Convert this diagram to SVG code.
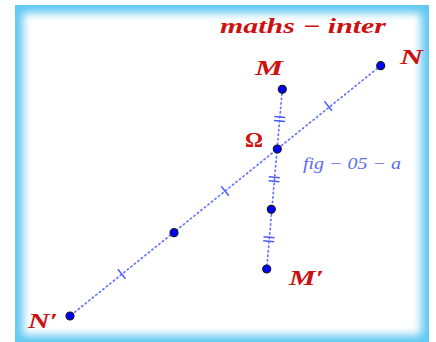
<svg xmlns="http://www.w3.org/2000/svg" width="436" height="342" viewBox="0 0 436 342">
<style>
.seg{stroke:#4a5cff;stroke-width:1.7;stroke-dasharray:1.3 3.2;stroke-linecap:round;fill:none;opacity:0.85}
.tick{stroke:#4a5cff;stroke-width:1.5;fill:none}
.pt{fill:#0000ff;stroke:#1a1a1a;stroke-width:1.2}
.lbl{font-family:"Liberation Serif","DejaVu Serif",serif;font-weight:bold;font-style:italic;fill:#cc1111}
.fig{font-family:"Liberation Serif","DejaVu Serif",serif;font-style:italic;fill:#5a6cf0}
</style>
<defs>
<clipPath id="frameClip"><rect x="15" y="5" width="414" height="340"/></clipPath>
<filter id="soft" x="-20%" y="-20%" width="140%" height="140%"><feGaussianBlur stdDeviation="4"/></filter>
</defs>
<rect width="436" height="342" fill="#ffffff"/>
<g id="frame" clip-path="url(#frameClip)">
<rect x="15" y="5" width="414" height="340" fill="#62c9f2"/>
<rect x="23" y="13" width="398" height="322" fill="#ffffff" filter="url(#soft)"/>
</g>
<g id="connectors">
<line class="seg" x1="380.7" y1="65.7" x2="70" y2="316"/>
<line class="seg" x1="282.3" y1="89.3" x2="266.7" y2="269"/>
<line class="tick" x1="324.4" y1="101.3" x2="332" y2="110.7"/>
<line class="tick" x1="221.2" y1="186.3" x2="228.8" y2="195.7"/>
<line class="tick" x1="117.9" y1="269.3" x2="125.5" y2="278.7"/>
<line class="tick" x1="274.3" y1="116.6" x2="285.3" y2="117.5"/>
<line class="tick" x1="274" y1="120.6" x2="285" y2="121.5"/>
<line class="tick" x1="268.8" y1="176.8" x2="279.8" y2="177.7"/>
<line class="tick" x1="268.5" y1="180.8" x2="279.5" y2="181.7"/>
<line class="tick" x1="263.5" y1="236.8" x2="274.5" y2="237.7"/>
<line class="tick" x1="263.2" y1="240.8" x2="274.2" y2="241.7"/>
</g>
<g id="N"><circle class="pt" cx="380.7" cy="65.7" r="4"/><text class="lbl" x="400" y="64" font-size="20" textLength="23" lengthAdjust="spacingAndGlyphs">N</text></g>
<g id="M"><circle class="pt" cx="282.3" cy="89.3" r="4"/><text class="lbl" x="255" y="75" font-size="20" textLength="28" lengthAdjust="spacingAndGlyphs">M</text></g>
<g id="Omega"><circle class="pt" cx="277.3" cy="149" r="4"/><text x="245" y="147" font-size="21" font-family="'Liberation Serif','DejaVu Serif',serif" font-weight="bold" fill="#cc1111" textLength="18" lengthAdjust="spacingAndGlyphs">Ω</text></g>
<g id="Q"><circle class="pt" cx="271.3" cy="209.3" r="4"/></g>
<g id="Mp"><circle class="pt" cx="266.7" cy="269" r="4"/><text class="lbl" x="289" y="285" font-size="20" textLength="35" lengthAdjust="spacingAndGlyphs">M′</text></g>
<g id="Np"><circle class="pt" cx="70" cy="316" r="4"/><text class="lbl" x="28" y="328" font-size="20" textLength="30" lengthAdjust="spacingAndGlyphs">N′</text></g>
<g id="P"><circle class="pt" cx="174" cy="232.7" r="4"/></g>
<g id="title"><text class="lbl" x="220" y="33" font-size="21" textLength="166" lengthAdjust="spacingAndGlyphs">maths − inter</text></g>
<g id="figlabel"><text class="fig" x="303" y="169" font-size="16" textLength="98" lengthAdjust="spacingAndGlyphs">fig − 05 − a</text></g>
</svg>
